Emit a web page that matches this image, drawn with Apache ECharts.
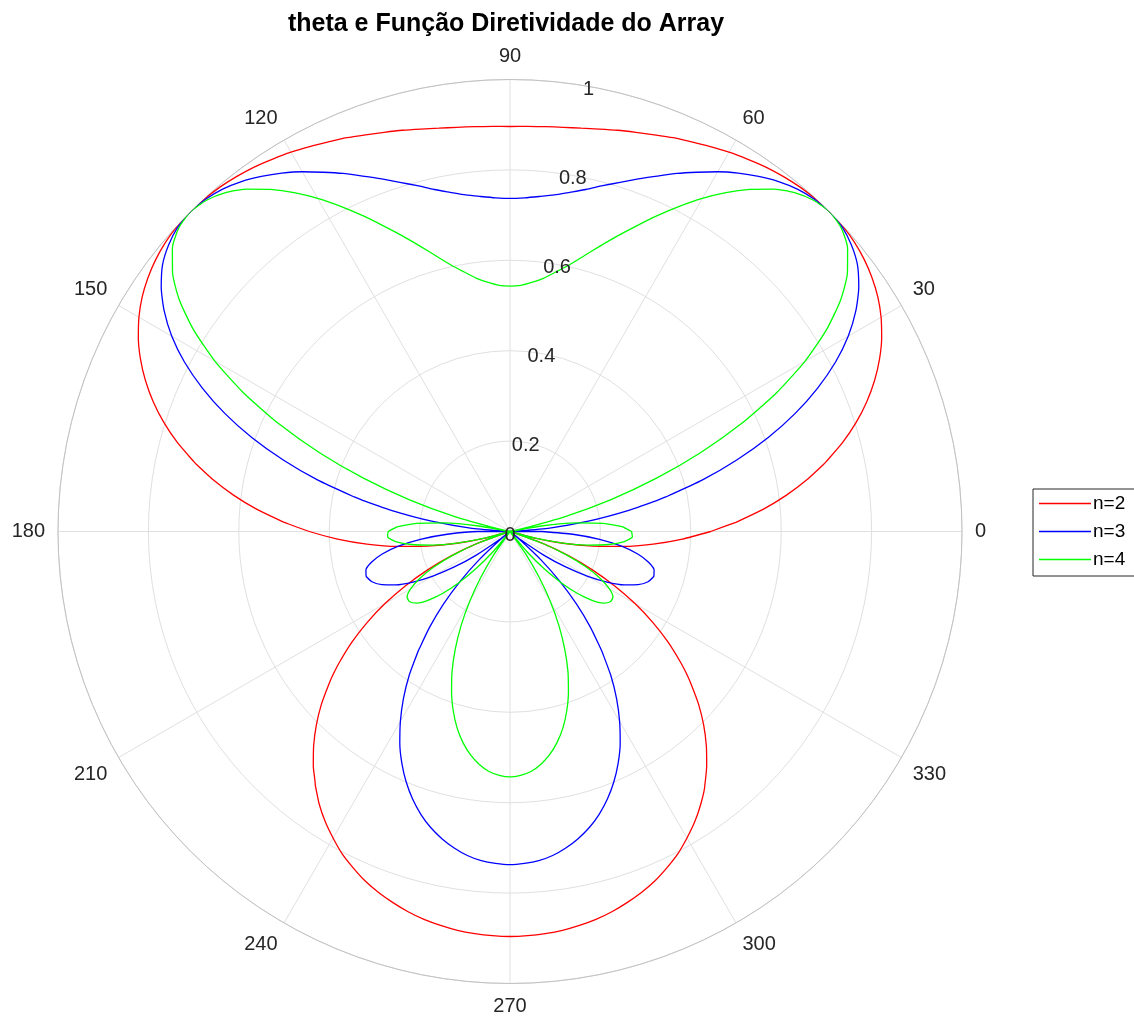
<!DOCTYPE html>
<html>
<head>
<meta charset="utf-8">
<script src="https://cdn.jsdelivr.net/npm/echarts@6/dist/echarts.min.js"></script>
<style>html,body{margin:0;padding:0;background:#fff;}#c{width:1134px;height:1018px;}</style>
</head>
<body>
<div id="c"></div>
<script>
// angle (degrees, counter-clockwise from 0 at the right)
const angles = [
  0, 2.32, 2.5, 5, 7.5, 10, 11.95, 12.5, 15, 17.5, 20, 22.5, 25, 27.5, 30, 32.5, 35, 37.5, 40, 42.5,
  45, 47.5, 50, 52.5, 55, 57.5, 60, 62.5, 65, 67.5, 70, 72.5, 75, 77.5, 80, 82.5, 85, 87.5, 90,
  92.5, 95, 97.5, 100, 102.5, 105, 107.5, 110, 112.5, 115, 117.5, 120, 122.5, 125, 127.5, 130, 132.5,
  135, 137.5, 140, 142.5, 145, 147.5, 150, 152.5, 155, 157.5, 160,
  162.5, 165, 167.5, 168.05, 170, 172.5, 175, 177.5, 177.68, 180,
  182.5, 185, 187.5, 190, 192.5, 195, 197.03, 197.5, 200,
  202.5, 205, 207.5, 210, 212.5, 215, 217.5, 218.77, 220,
  222.5, 225, 227.5, 230, 232.46, 232.5, 235, 237.5, 240,
  242.5, 245, 247.5, 250, 252.5, 255, 257.5, 260, 262.5, 265, 267.5, 270,
  272.5, 275, 277.5, 280, 282.5, 285, 287.5, 290, 292.5, 295, 297.5, 300,
  302.5, 305, 307.5, 307.54, 310,
  312.5, 315, 317.5, 320, 321.23, 322.5, 325,
  327.5, 330, 332.5, 335, 337.5, 340,
  342.5, 342.97, 345, 347.5, 350, 352.5, 355, 357.5, 360];

// n=2
const r2 = [
  0.444, 0.500, 0.504, 0.562, 0.617, 0.669, 0.707, 0.717, 0.762, 0.803, 0.840, 0.873, 0.902, 0.927, 0.948, 0.965, 0.978, 0.988, 0.995, 0.999,
  1.000, 0.999, 0.996, 0.991, 0.985, 0.977, 0.969, 0.960, 0.951, 0.943, 0.934, 0.926, 0.919, 0.912, 0.906, 0.902, 0.899, 0.897, 0.896,
  0.897, 0.899, 0.902, 0.906, 0.912, 0.919, 0.926, 0.934, 0.943, 0.951, 0.960, 0.969, 0.977, 0.985, 0.991, 0.996, 0.999,
  1.000, 0.999, 0.995, 0.988, 0.978, 0.965, 0.948, 0.927, 0.902, 0.873, 0.840,
  0.803, 0.762, 0.717, 0.707, 0.669, 0.617, 0.562, 0.504, 0.500, 0.444,
  0.382, 0.318, 0.252, 0.186, 0.120, 0.054, 0.000, 0.012, 0.077,
  0.141, 0.202, 0.262, 0.320, 0.375, 0.427, 0.476, 0.500, 0.522,
  0.566, 0.606, 0.643, 0.677, 0.707, 0.708, 0.736, 0.761, 0.783,
  0.804, 0.821, 0.837, 0.850, 0.861, 0.871, 0.879, 0.885, 0.890, 0.893, 0.895, 0.896,
  0.895, 0.893, 0.890, 0.885, 0.879, 0.871, 0.861, 0.850, 0.837, 0.821, 0.804, 0.783,
  0.761, 0.736, 0.708, 0.707, 0.677,
  0.643, 0.606, 0.566, 0.522, 0.500, 0.476, 0.427,
  0.375, 0.320, 0.262, 0.202, 0.141, 0.077,
  0.012, 0.000, 0.054, 0.120, 0.186, 0.252, 0.318, 0.382, 0.444];

// n=3
const r3 = [
  0.071, 0.000, 0.006, 0.088, 0.175, 0.263, 0.333, 0.353, 0.441, 0.526, 0.608, 0.683, 0.751, 0.812, 0.864, 0.907, 0.942, 0.969, 0.986, 0.997,
  1.000, 0.997, 0.989, 0.976, 0.959, 0.940, 0.919, 0.896, 0.874, 0.851, 0.830, 0.810, 0.792, 0.775, 0.762, 0.751, 0.744, 0.739, 0.737,
  0.739, 0.744, 0.751, 0.762, 0.775, 0.792, 0.810, 0.830, 0.851, 0.874, 0.896, 0.919, 0.940, 0.959, 0.976, 0.989, 0.997,
  1.000, 0.997, 0.986, 0.969, 0.942, 0.907, 0.864, 0.812, 0.751, 0.683, 0.608,
  0.526, 0.441, 0.353, 0.333, 0.263, 0.175, 0.088, 0.006, 0.000, 0.071,
  0.139, 0.199, 0.249, 0.287, 0.314, 0.330, 0.333, 0.333, 0.325,
  0.307, 0.279, 0.242, 0.197, 0.146, 0.091, 0.031, 0.000, 0.031,
  0.093, 0.156, 0.218, 0.277, 0.333, 0.334, 0.389, 0.439, 0.485,
  0.528, 0.566, 0.600, 0.630, 0.656, 0.678, 0.696, 0.711, 0.723, 0.731, 0.735, 0.737,
  0.735, 0.731, 0.723, 0.711, 0.696, 0.678, 0.656, 0.630, 0.600, 0.566, 0.528, 0.485,
  0.439, 0.389, 0.334, 0.333, 0.277,
  0.218, 0.156, 0.093, 0.031, 0.000, 0.031, 0.091,
  0.146, 0.197, 0.242, 0.279, 0.307, 0.325,
  0.333, 0.333, 0.330, 0.314, 0.287, 0.249, 0.199, 0.139, 0.071];

// n=4
const r4 = [
  0.269, 0.250, 0.248, 0.207, 0.147, 0.070, 0.000, 0.021, 0.123, 0.233, 0.345, 0.457, 0.565, 0.665, 0.754, 0.830, 0.893, 0.941, 0.975, 0.994,
  1.000, 0.994, 0.979, 0.955, 0.924, 0.889, 0.851, 0.811, 0.771, 0.732, 0.696, 0.662, 0.631, 0.604, 0.583, 0.565, 0.553, 0.545, 0.543,
  0.545, 0.553, 0.565, 0.583, 0.604, 0.631, 0.662, 0.696, 0.732, 0.771, 0.811, 0.851, 0.889, 0.924, 0.955, 0.979, 0.994,
  1.000, 0.994, 0.975, 0.941, 0.893, 0.830, 0.754, 0.665, 0.565, 0.457, 0.345,
  0.233, 0.123, 0.021, 0.000, 0.070, 0.147, 0.207, 0.248, 0.250, 0.269,
  0.271, 0.254, 0.220, 0.173, 0.116, 0.053, 0.000, 0.012, 0.076,
  0.135, 0.186, 0.226, 0.254, 0.270, 0.271, 0.260, 0.250, 0.237,
  0.204, 0.161, 0.112, 0.057, 0.000, 0.001, 0.061, 0.120, 0.178,
  0.234, 0.286, 0.335, 0.378, 0.417, 0.451, 0.479, 0.502, 0.520, 0.533, 0.540, 0.543,
  0.540, 0.533, 0.520, 0.502, 0.479, 0.451, 0.417, 0.378, 0.335, 0.286, 0.234, 0.178,
  0.120, 0.061, 0.001, 0.000, 0.057,
  0.112, 0.161, 0.204, 0.237, 0.250, 0.260, 0.271,
  0.270, 0.254, 0.226, 0.186, 0.135, 0.076,
  0.012, 0.000, 0.053, 0.116, 0.173, 0.220, 0.254, 0.271, 0.269];

const seriesNames = ['n=2', 'n=3', 'n=4'];
const seriesColors = ['#ff0000', '#0000ff', '#00ff00'];
const seriesValues = [r2, r3, r4];

const FONT = 'Liberation Sans, Arial, Helvetica, sans-serif';
const chart = echarts.init(document.getElementById('c'), null, {renderer: 'canvas'});

const center = [510, 531.5];
const labelCenter = [510, 535];
const R = 452;

chart.setOption({
  animation: false,
  backgroundColor: '#ffffff',
  title: {
    text: 'theta e Função Diretividade do Array',
    left: 501, top: 7, textAlign: 'center',
    textStyle: {fontSize: 25, fontWeight: 'bold', color: '#000000', fontFamily: FONT}
  },
  legend: {
    orient: 'vertical', left: 1033, top: 489,
    data: seriesNames, icon: 'rect', itemWidth: 52, itemHeight: 1.5, itemGap: 9,
    padding: [5, 60, 7, 6],
    borderColor: '#262626', borderWidth: 1, backgroundColor: '#ffffff', borderRadius: 0,
    textStyle: {fontSize: 19, color: '#000000', fontFamily: FONT, padding: [0, 0, 0, -3]}
  },
  polar: [
    {center: center, radius: R},
    {center: labelCenter, radius: R}
  ],
  angleAxis: [
    {
      polarIndex: 0, type: 'value', min: 0, max: 360, interval: 30,
      startAngle: 0, clockwise: false,
      axisLine: {show: true, lineStyle: {color: '#c2c2c2', width: 1}},
      axisTick: {show: false},
      axisLabel: {
        show: true, margin: 13, fontSize: 20, color: '#262626', fontFamily: FONT,
        formatter: function (v) { return v === 360 ? '' : String(v); }
      },
      splitLine: {show: true, lineStyle: {color: '#e0e0e0', width: 1}}
    },
    {
      polarIndex: 1, type: 'value', min: 0, max: 360, interval: 30,
      startAngle: 80, clockwise: false,
      axisLine: {show: false}, axisTick: {show: false}, axisLabel: {show: false},
      splitLine: {show: false}
    }
  ],
  radiusAxis: [
    {
      polarIndex: 0, type: 'value', min: 0, max: 1, interval: 0.2,
      axisLine: {show: false}, axisTick: {show: false}, axisLabel: {show: false},
      splitLine: {show: true, lineStyle: {color: '#e0e0e0', width: 1}}
    },
    {
      polarIndex: 1, type: 'value', min: 0, max: 1, interval: 0.2,
      axisLine: {show: false}, axisTick: {show: false}, splitLine: {show: false},
      axisLabel: {
        show: true, margin: 0, fontSize: 20, color: '#262626', fontFamily: FONT,
        align: 'center', verticalAlign: 'middle'
      },
      z: 5
    }
  ],
  series: seriesNames.map(function (name, k) {
    return {
      name: name, type: 'line', coordinateSystem: 'polar', polarIndex: 0,
      showSymbol: false, symbol: 'none', smooth: 0.2,
      lineStyle: {color: seriesColors[k], width: 1.3},
      itemStyle: {color: seriesColors[k]},
      data: angles.map(function (a, i) { return [seriesValues[k][i], a]; }),
      z: 3
    };
  })
});
</script>
</body>
</html>
